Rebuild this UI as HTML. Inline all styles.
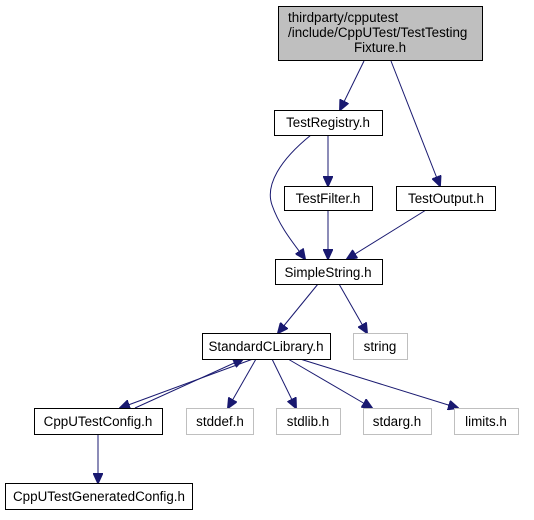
<!DOCTYPE html>
<html><head><meta charset="utf-8"><style>
html,body{margin:0;padding:0;background:#fff;}
svg text{font-family:"Liberation Sans",sans-serif;font-size:13.4px;fill:#000;}
</style></head><body>
<svg width="534" height="515" xmlns="http://www.w3.org/2000/svg">
<defs><marker id="a" markerWidth="11" markerHeight="10" refX="10" refY="5" orient="auto" markerUnits="userSpaceOnUse"><path d="M0,0 L11,5 L0,10 z" fill="#191970" stroke="#191970"/></marker></defs>
<g fill="none" stroke="#191970" stroke-width="1" marker-end="url(#a)">
<line x1="364" y1="61" x2="340" y2="110"/>
<line x1="391" y1="61" x2="440" y2="186"/>
<path d="M311,135 C280,160 265,185 272,205 C280,228 295,245 305,259"/>
<line x1="328" y1="135" x2="328" y2="186"/>
<line x1="328" y1="210" x2="328" y2="259"/>
<line x1="426" y1="210" x2="347" y2="259"/>
<line x1="318" y1="284" x2="278" y2="333"/>
<line x1="339" y1="284" x2="367" y2="333"/>
<line x1="253" y1="359" x2="120" y2="408"/>
<line x1="135" y1="408" x2="243" y2="359"/>
<line x1="256" y1="359" x2="228" y2="408"/>
<line x1="272" y1="359" x2="296" y2="408"/>
<line x1="288" y1="359" x2="372" y2="408"/>
<line x1="300" y1="359" x2="458" y2="408"/>
<line x1="98" y1="434" x2="98" y2="483"/>
</g>
<g stroke-width="1">
<rect x="278.5" y="6.5" width="204" height="54" fill="#bfbfbf" stroke="#000"/>
<rect x="274.5" y="110.5" width="108" height="25" fill="#fff" stroke="#000"/>
<rect x="284.5" y="186.5" width="88" height="24" fill="#fff" stroke="#000"/>
<rect x="396.5" y="186.5" width="99" height="24" fill="#fff" stroke="#000"/>
<rect x="275.5" y="259.5" width="107" height="25" fill="#fff" stroke="#000"/>
<rect x="202.5" y="333.5" width="128" height="26" fill="#fff" stroke="#000"/>
<rect x="353.5" y="333.5" width="54" height="26" fill="#fff" stroke="#bfbfbf"/>
<rect x="34.5" y="408.5" width="128" height="26" fill="#fff" stroke="#000"/>
<rect x="186.5" y="408.5" width="67" height="26" fill="#fff" stroke="#bfbfbf"/>
<rect x="276.5" y="408.5" width="64" height="26" fill="#fff" stroke="#bfbfbf"/>
<rect x="363.5" y="408.5" width="68" height="26" fill="#fff" stroke="#bfbfbf"/>
<rect x="454.5" y="408.5" width="64" height="26" fill="#fff" stroke="#bfbfbf"/>
<rect x="5.5" y="483.5" width="187" height="26" fill="#fff" stroke="#000"/>
</g>
<text x="288" y="22">thirdparty/cpputest</text>
<text x="288" y="37">/include/CppUTest/TestTesting</text>
<text x="380" y="52" text-anchor="middle">Fixture.h</text>
<text x="328" y="127" text-anchor="middle">TestRegistry.h</text>
<text x="328" y="203" text-anchor="middle">TestFilter.h</text>
<text x="446" y="203" text-anchor="middle">TestOutput.h</text>
<text x="328" y="277" text-anchor="middle">SimpleString.h</text>
<text x="266" y="351" text-anchor="middle">StandardCLibrary.h</text>
<text x="380" y="351" text-anchor="middle">string</text>
<text x="98" y="426" text-anchor="middle">CppUTestConfig.h</text>
<text x="220" y="426" text-anchor="middle">stddef.h</text>
<text x="308" y="426" text-anchor="middle">stdlib.h</text>
<text x="397" y="426" text-anchor="middle">stdarg.h</text>
<text x="486" y="426" text-anchor="middle">limits.h</text>
<text x="99" y="501" text-anchor="middle">CppUTestGeneratedConfig.h</text>
</svg>
</body></html>
